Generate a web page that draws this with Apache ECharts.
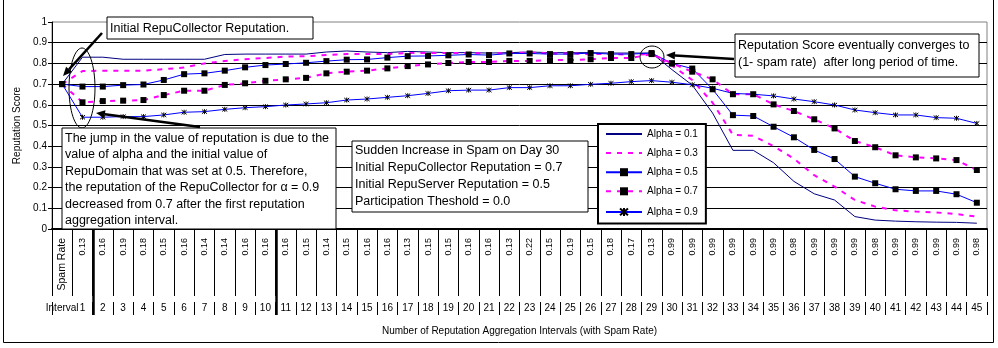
<!DOCTYPE html>
<html>
<head>
<meta charset="utf-8">
<script src="https://cdn.jsdelivr.net/npm/echarts@6/dist/echarts.min.js"></script>
<style>
  html, body { margin: 0; padding: 0; background: #fff; }
  #chart { width: 998px; height: 348px; }
</style>
</head>
<body>
<div id="chart"></div>
<script>
// Category rows of the data table under the plot
const spamRates = ['Spam Rate',
  '0.13','0.16','0.19','0.18','0.15','0.16','0.14','0.14','0.16','0.16',
  '0.16','0.15','0.14','0.15','0.16','0.16','0.13','0.15','0.15','0.16',
  '0.16','0.13','0.22','0.15','0.19','0.15','0.18','0.17','0.13','0.99',
  '0.99','0.99','0.99','0.99','0.99','0.98','0.99','0.99','0.99','0.98',
  '0.99','0.99','0.99','0.99','0.98'];
const intervals = ['Interval',
  '1','2','3','4','5','6','7','8','9','10',
  '11','12','13','14','15','16','17','18','19','20',
  '21','22','23','24','25','26','27','28','29','30',
  '31','32','33','34','35','36','37','38','39','40',
  '41','42','43','44','45'];

// Reputation score per aggregation interval (index 0 = initial value)
const alpha01 = [0.70,
  0.83,0.83,0.82,0.82,0.82,0.82,0.82,0.843,0.845,0.845,
  0.845,0.845,0.855,0.86,0.855,0.852,0.858,0.855,0.852,0.852,
  0.85,0.852,0.855,0.852,0.852,0.852,0.85,0.85,0.85,0.77,
  0.695,0.56,0.38,0.38,0.32,0.23,0.17,0.14,0.06,0.043,
  0.038,0.035,0.033,0.032,0.028];
const alpha03 = [0.70,
  0.763,0.765,0.765,0.765,0.772,0.78,0.80,0.812,0.82,0.826,
  0.833,0.835,0.84,0.845,0.845,0.845,0.85,0.85,0.85,0.85,
  0.848,0.85,0.852,0.848,0.848,0.845,0.845,0.842,0.845,0.79,
  0.72,0.61,0.455,0.45,0.40,0.34,0.26,0.205,0.14,0.108,
  0.09,0.084,0.08,0.072,0.06];
const alpha05 = [0.70,
  0.688,0.688,0.695,0.698,0.72,0.748,0.752,0.765,0.781,0.792,
  0.797,0.803,0.811,0.818,0.819,0.828,0.835,0.836,0.839,0.843,
  0.84,0.848,0.848,0.845,0.845,0.85,0.845,0.845,0.85,0.80,
  0.775,0.675,0.55,0.546,0.494,0.443,0.382,0.338,0.253,0.221,
  0.192,0.184,0.184,0.168,0.127];
const alpha07 = [0.70,
  0.612,0.618,0.62,0.623,0.647,0.668,0.668,0.696,0.704,0.716,
  0.723,0.73,0.752,0.76,0.765,0.776,0.787,0.795,0.802,0.807,
  0.807,0.812,0.812,0.816,0.816,0.82,0.826,0.826,0.845,0.80,
  0.76,0.723,0.651,0.651,0.602,0.57,0.53,0.486,0.425,0.395,
  0.356,0.346,0.341,0.333,0.285];
const alpha09 = [0.70,
  0.54,0.54,0.543,0.543,0.551,0.564,0.567,0.578,0.586,0.591,
  0.599,0.604,0.61,0.623,0.628,0.636,0.644,0.655,0.668,0.671,
  0.671,0.683,0.683,0.692,0.692,0.699,0.704,0.712,0.717,0.709,
  0.697,0.68,0.655,0.651,0.643,0.628,0.615,0.599,0.575,0.562,
  0.551,0.551,0.538,0.535,0.51];

const yTicks = [0, 0.1, 0.2, 0.3, 0.4, 0.5, 0.6, 0.7, 0.8, 0.9, 1];
const yTickLabels = ['0','0.1','0.2','0.3','0.4','0.5','0.6','0.7','0.8','0.9','1'];

const FONT = '"Liberation Sans", Arial, sans-serif';
const chart = echarts.init(document.getElementById('chart'), null, { renderer: 'canvas' });

const starPath = 'path://M0,0L10,10M10,0L0,10M5,-1L5,11';

function arrow(x1, y1, x2, y2) {
  const ang = Math.atan2(y2 - y1, x2 - x1);
  const hl = 9, hw = 4;
  const bx = x2 - hl * Math.cos(ang), by = y2 - hl * Math.sin(ang);
  const px = -Math.sin(ang) * hw, py = Math.cos(ang) * hw;
  return [
    { type: 'line', z: 100, shape: { x1: x1, y1: y1, x2: bx, y2: by },
      style: { stroke: '#000', lineWidth: 2.5 } },
    { type: 'polygon', z: 100,
      shape: { points: [[x2, y2], [bx + px, by + py], [bx - px, by - py]] },
      style: { fill: '#000' } }
  ];
}

function textBox(x, y, w, h, lines, lineH, firstY, fontSize) {
  const els = [{ type: 'rect', z: 100, shape: { x: x, y: y, width: w, height: h },
    style: { fill: '#fff', stroke: '#000', lineWidth: 1 } }];
  lines.forEach(function (t, i) {
    els.push({ type: 'text', z: 101, x: x + 3, y: firstY + i * lineH,
      style: { text: t, font: fontSize + 'px ' + FONT, fill: '#000', verticalAlign: 'middle' } });
  });
  return els;
}

const graphics = [].concat(
  [{ type: 'rect', z: 90, shape: { x: 3.5, y: -0.5, width: 990, height: 343 },
     style: { fill: 'none', stroke: '#000', lineWidth: 1 } }],
  [{ type: 'ellipse', z: 99, shape: { cx: 82, cy: 88, rx: 13, ry: 40 },
     style: { fill: 'none', stroke: '#000', lineWidth: 1 } },
   { type: 'ellipse', z: 99, shape: { cx: 652, cy: 57, rx: 12, ry: 11 },
     style: { fill: 'none', stroke: '#000', lineWidth: 1 } }],
  textBox(107, 17, 206, 22, ['Initial RepuCollector Reputation.'], 16, 28.5, 12.5),
  textBox(62, 128, 274, 101, [
    'The jump in the value of reputation is due to the',
    'value of alpha and the initial value of',
    'RepuDomain that was set at 0.5. Therefore,',
    'the reputation of the RepuCollector for \u03b1 = 0.9',
    'decreased from 0.7 after the first reputation',
    'aggregation interval.'], 16.5, 138.5, 12.5),
  textBox(352, 141, 236, 71, [
    'Sudden Increase in Spam on Day 30',
    'Initial RepuCollector Reputation = 0.7',
    'Initial RepuServer Reputation = 0.5',
    'Participation Theshold = 0.0'], 16.7, 151, 12.5),
  textBox(735, 34, 244, 43, [
    'Reputation Score eventually converges to',
    '(1- spam rate)  after long period of time.'], 16.7, 45.5, 12.5),
  arrow(102, 33, 63, 76),
  arrow(200, 127, 96, 113),
  arrow(734, 59, 666, 55)
);

const hiddenMark = { color: 'rgba(0,0,0,0)', borderWidth: 0 };
const blackMark = { color: '#000', borderWidth: 0 };

const option = {
  animation: false,
  backgroundColor: '#fff',
  textStyle: { fontFamily: FONT, color: '#000' },
  grid: { left: 52, right: 11, top: 22, bottom: 119, show: true,
          borderColor: '#808080', borderWidth: 1, backgroundColor: '#fff' },
  legend: {
    orient: 'vertical', left: 598, top: 124,
    itemWidth: 36, itemHeight: 10, itemGap: 9.1, itemTextGap: 5,
    padding: [5, 8, 5, 7],
    backgroundColor: '#fff', borderColor: '#000', borderWidth: 2,
    textStyle: { fontSize: 10, fontFamily: FONT, color: '#000' },
    z: 98,
    data: [
      { name: 'Alpha = 0.1', itemStyle: hiddenMark },
      { name: 'Alpha = 0.3', itemStyle: hiddenMark },
      { name: 'Alpha = 0.5', itemStyle: blackMark },
      { name: 'Alpha = 0.7', itemStyle: blackMark },
      { name: 'Alpha = 0.9' }
    ]
  },
  xAxis: [
    {
      type: 'category', data: spamRates, position: 'bottom', boundaryGap: true,
      axisLine: { show: true, lineStyle: { color: '#000', width: 2 } },
      axisTick: { show: true, length: 67, interval: 0, lineStyle: { color: '#000', width: 1 } },
      axisLabel: { interval: 0, rotate: 90, fontSize: 9, margin: 9, color: '#000', fontFamily: FONT,
        formatter: function (v, i) { return i === 0 ? '{h|' + v + '}' : v; },
        rich: { h: { fontSize: 10.5, fontFamily: FONT, color: '#000' } } },
      splitLine: { show: false }
    },
    {
      type: 'category', data: intervals, position: 'bottom', offset: 73, boundaryGap: true,
      axisLine: { show: false },
      axisTick: { show: true, length: 13, interval: function (i) { return i !== 1; },
                  lineStyle: { color: '#000', width: 1 } },
      axisLabel: { interval: 0, fontSize: 10, margin: 1, color: '#000', fontFamily: FONT },
      name: 'Number of Reputation Aggregation Intervals (with Spam Rate)',
      nameLocation: 'middle', nameGap: 24,
      nameTextStyle: { fontSize: 10, color: '#000', fontFamily: FONT },
      splitLine: { show: false }
    }
  ],
  yAxis: {
    type: 'value', min: 0, max: 1, interval: 0.1,
    name: 'Reputation Score', nameLocation: 'middle', nameGap: 30,
    nameTextStyle: { fontSize: 10, color: '#000', fontFamily: FONT },
    axisLine: { show: true, lineStyle: { color: '#000', width: 1 } },
    axisTick: { show: true, length: 4, lineStyle: { color: '#000' } },
    axisLabel: { fontSize: 10, margin: 5, color: '#000', fontFamily: FONT,
      formatter: function (v) {
        const k = yTicks.findIndex(function (t) { return Math.abs(t - v) < 1e-9; });
        return k >= 0 ? yTickLabels[k] : '';
      } },
    splitLine: { show: true, showMinLine: false, showMaxLine: false,
                 lineStyle: { color: '#000', width: 1 } }
  },
  series: [
    { name: 'Alpha = 0.1', type: 'line', data: alpha01, symbol: 'none',
      lineStyle: { color: '#000080', width: 1 }, itemStyle: { color: '#000080' } },
    { name: 'Alpha = 0.3', type: 'line', data: alpha03, symbol: 'none',
      lineStyle: { color: '#FF00FF', width: 2, type: [5, 6] }, itemStyle: { color: '#FF00FF' } },
    { name: 'Alpha = 0.5', type: 'line', data: alpha05, symbol: 'rect', symbolSize: 6,
      lineStyle: { color: '#0000FF', width: 1 }, itemStyle: { color: '#000' } },
    { name: 'Alpha = 0.7', type: 'line', data: alpha07, symbol: 'rect', symbolSize: 6,
      lineStyle: { color: '#FF00FF', width: 2, type: [5, 6] }, itemStyle: { color: '#000' } },
    { name: 'Alpha = 0.9', type: 'line', data: alpha09, symbol: starPath, symbolSize: 5,
      lineStyle: { color: '#0000FF', width: 1 },
      itemStyle: { color: 'none', borderColor: '#000', borderWidth: 1 } }
  ],
  graphic: graphics
};

chart.setOption(option);

// Heavier separators in the data table, placed on category boundaries
function boundaryX(k) {
  const a = chart.convertToPixel({ xAxisIndex: 0 }, k - 1);
  const b = chart.convertToPixel({ xAxisIndex: 0 }, k);
  return (a + b) / 2;
}
const yBase = chart.convertToPixel({ yAxisIndex: 0 }, 0);
const heavy = [2, 11].map(function (k) {
  const x = Math.round(boundaryX(k)) + 0.5;
  return { type: 'line', z: 95, shape: { x1: x, y1: yBase, x2: x, y2: yBase + 86 },
           style: { stroke: '#000', lineWidth: 2.5 } };
});
chart.setOption({ graphic: graphics.concat(heavy) });
</script>
</body>
</html>
